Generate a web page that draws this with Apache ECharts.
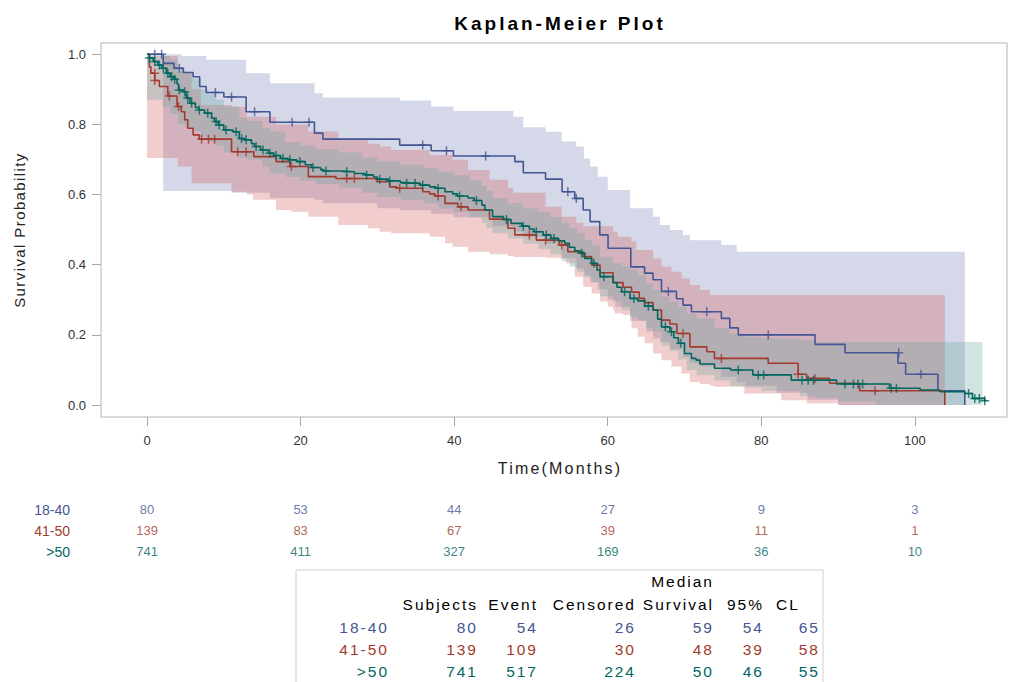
<!DOCTYPE html>
<html>
<head>
<meta charset="utf-8">
<title>Kaplan-Meier Plot</title>
<script src="https://cdn.jsdelivr.net/npm/echarts@6/dist/echarts.min.js"></script>
<style>
  html, body { margin: 0; padding: 0; background: #fff; }
  #chart { width: 1009px; height: 682px; }
</style>
</head>
<body>
<div id="chart"></div>
<script>
/*---------------------------------------- data ---------------------------------------------*/
var groupNames = ['18-40', '41-50', '>50'];
var lineColors = ['#445694', '#A23A2E', '#01665E'];
var fillColors = ['#6F7EB3', '#D05B5B', '#66A5A0'];

// step curves: [month, survival] (level holds from month on)
var survival1840 = [
    [0, 1.0], [2.1, .974], [3.5, .960], [4.7, .948], [6.0, .936], [6.85, .908], [7.7, .891], [10.0, .878],
    [12.9, .836], [16.0, .806], [21.8, .775], [22.9, .758], [32.9, .741], [37.0, .725], [39.9, .710],
    [47.9, .694], [49.0, .662], [51.9, .644], [54.05, .608], [55.7, .589], [56.8, .556], [57.7, .523],
    [58.96, .485], [60.04, .447], [63.0, .394], [64.8, .376], [65.9, .357], [67.0, .324], [68.95, .303],
    [69.8, .285], [70.9, .266], [74.8, .247], [75.9, .220], [77.0, .200], [87.0, .173], [90.9, .149],
    [97.8, .119], [98.8, .088], [103.0, .041], [106.5, 0]
];
var survival4150 = [
    [0, 1.0], [0.3, .964], [0.5, .946], [1.0, .925], [1.6, .908], [2.7, .881], [3.9, .851], [4.45, .836],
    [4.9, .813], [5.3, .789], [6.0, .770], [6.8, .758], [11.0, .722], [13.9, .708], [16.8, .694],
    [18.6, .680], [21.0, .651], [24.6, .646], [29.9, .637], [31.6, .622], [32.5, .618], [35.9, .608],
    [36.8, .602], [37.5, .596], [38.8, .575], [40.5, .565], [41.8, .556], [44.6, .530], [47.0, .504],
    [47.9, .485], [50.7, .470], [53.7, .456], [54.8, .437], [56.8, .423], [57.9, .399], [59.0, .377],
    [60.7, .349], [62.0, .336], [63.1, .322], [64.1, .304], [64.8, .292], [65.9, .271], [67.0, .242],
    [68.1, .231], [69.0, .204], [70.7, .166], [72.9, .152], [73.9, .133], [80.9, .119], [84.8, .088],
    [85.9, .076], [88.9, .062], [92.8, .041], [103.9, 0]
];
var survivalOver50 = [
    [0, 1.0], [0.3, .989], [0.8, .979], [1.4, .969], [1.9, .960], [2.5, .946], [3.0, .936], [3.5, .929],
    [3.9, .915], [4.1, .898], [4.7, .893], [5.1, .875], [5.6, .860], [6.3, .848], [6.7, .841], [7.5, .832],
    [8.4, .818], [8.8, .808], [9.3, .798], [10.0, .784], [11.2, .779], [12.0, .760], [12.7, .756],
    [13.6, .745], [14.0, .737], [14.8, .727], [15.8, .718], [16.5, .711], [17.4, .703], [18.4, .699],
    [19.5, .694], [20.6, .685], [21.4, .677], [22.6, .671], [23.0, .667], [25.5, .665], [27.0, .660],
    [28.4, .656], [29.5, .650], [30.0, .644], [31.4, .639], [33.0, .634], [33.5, .632], [35.6, .627],
    [36.8, .622], [37.6, .618], [38.8, .608], [39.8, .602], [40.4, .596], [41.8, .590], [42.6, .583],
    [43.6, .570], [44.0, .556], [45.0, .537], [46.4, .529], [47.4, .518], [48.8, .510], [49.8, .502],
    [50.4, .494], [51.6, .485], [52.6, .475], [53.6, .468], [54.4, .461], [55.0, .450], [55.7, .440],
    [56.4, .433], [57.0, .418], [57.9, .404], [58.6, .385], [59.0, .366], [60.7, .349], [61.2, .336],
    [61.8, .323], [62.9, .304], [63.9, .297], [64.8, .282], [65.9, .271], [66.5, .245], [67.0, .223],
    [68.1, .209], [68.6, .192], [69.2, .176], [70.0, .147], [70.9, .133], [71.5, .128], [72.0, .117],
    [73.9, .105], [76.0, .100], [78.9, .086], [83.9, .071], [89.8, .060], [96.7, .048], [100.7, .043],
    [103.3, .038], [106.5, .033], [107.5, .019], [109.1, .012], [109.3, .012]
];

// censored observations: [month, survival]
var censor1840 = [
    [1.0, 1], [1.9, 1], [4.2, .960], [8.9, .891], [11.0, .878], [14.0, .836], [18.9, .806], [21.1, .806],
    [35.9, .741], [39.0, .725], [44.1, .710], [54.8, .608], [55.9, .589], [67.9, .324], [72.9, .266],
    [80.9, .200], [97.9, .149], [100.8, .088]
];
var censor4150 = [
    [1.0, .946], [1.0, .925], [2.9, .881], [4.1, .851], [7.1, .758], [8.0, .758], [8.8, .758], [11.8, .722],
    [12.9, .722], [18.8, .680], [26.0, .646], [27.0, .646], [32.9, .618], [37.9, .596], [40.9, .565],
    [49.8, .485], [51.9, .470], [54.0, .456], [69.8, .204], [74.8, .133], [84.8, .088], [87.0, .076],
    [94.8, .041]
];
var censorOver50 = [
    [0.3, .989], [1.0, .979], [1.6, .969], [2.1, .960], [2.7, .946], [3.2, .936], [3.6, .929], [4.2, .898],
    [4.9, .893], [5.3, .875], [5.8, .860], [6.8, .841], [7.9, .832], [9.0, .808], [9.4, .798], [10.3, .784],
    [11.6, .779], [12.3, .760], [12.9, .756], [14.2, .737], [15.1, .727], [16.0, .718], [16.8, .711],
    [17.7, .703], [18.6, .699], [19.9, .694], [21.6, .677], [23.3, .667], [26.0, .665], [28.6, .656],
    [30.3, .644], [31.6, .639], [33.8, .632], [34.9, .632], [35.9, .627], [37.9, .618], [40.7, .596],
    [42.9, .583], [46.8, .529], [49.0, .510], [50.7, .494], [52.0, .485], [53.0, .475], [56.6, .433],
    [58.2, .404], [59.5, .366], [62.2, .323], [63.4, .304], [65.3, .282], [67.5, .223], [68.3, .209],
    [69.5, .176], [77.0, .100], [79.6, .086], [80.3, .086], [85.3, .071], [86.1, .071], [86.8, .071],
    [90.9, .060], [92.0, .060], [92.6, .060], [93.2, .060], [96.9, .048], [97.6, .048], [107.0, .033],
    [107.8, .019], [108.4, .019], [109.1, .012]
];

// confidence bands: [month, lower, upper] (holds from month on), plus end month
var band1840 = [
    [2.1, .610, 1.0], [4.5, .610, .995], [7.7, .610, .984], [11.0, .605, .984], [12.9, .605, .946],
    [16.0, .590, .917], [21.8, .585, .889], [22.9, .575, .877], [30.0, .561, .877], [32.9, .555, .868],
    [37.0, .545, .851], [39.9, .535, .838], [45.0, .510, .838], [47.7, .495, .822], [49.0, .480, .792],
    [51.9, .460, .779], [54.0, .420, .751], [55.9, .390, .737], [56.9, .370, .703], [57.7, .350, .680],
    [58.7, .330, .651], [60.0, .300, .613], [61.0, .280, .613], [62.9, .240, .561], [65.0, .210, .561],
    [65.9, .190, .537], [66.8, .180, .513], [68.1, .160, .499], [69.8, .138, .485], [70.7, .120, .470],
    [72.0, .110, .470], [74.8, .080, .456], [76.8, .065, .437], [78.0, .055, .437], [82.0, .035, .437],
    [86.0, .015, .437], [90.0, 0, .437]
];
var band4150 = [
    [0, .704, .995], [4.0, .680, .950], [5.8, .632, .900], [7.0, .632, .855], [11.0, .608, .850],
    [13.0, .600, .822], [13.8, .585, .822], [16.8, .556, .800], [18.8, .551, .800], [21.0, .537, .780],
    [24.9, .513, .760], [28.8, .504, .745], [30.3, .494, .737], [31.8, .490, .727], [36.8, .480, .713],
    [38.8, .461, .713], [39.8, .451, .699], [41.8, .437, .670], [44.6, .430, .642], [47.0, .425, .619],
    [47.7, .422, .605], [51.9, .420, .565], [53.7, .418, .565], [54.0, .418, .537], [54.6, .404, .537],
    [55.7, .366, .537], [55.9, .366, .520], [56.8, .337, .510], [57.9, .318, .510], [59.0, .295, .510],
    [60.0, .280, .510], [60.7, .270, .494], [60.9, .261, .494], [61.3, .261, .480], [62.0, .257, .480],
    [63.1, .219, .466], [63.7, .219, .442], [63.9, .195, .442], [64.8, .176, .442], [65.9, .147, .418],
    [67.0, .128, .394], [68.3, .110, .380], [69.6, .090, .361], [70.7, .066, .342], [72.0, .060, .328],
    [73.3, .055, .314], [73.9, .052, .314], [77.8, .033, .314], [82.6, .014, .314], [85.9, .005, .314],
    [90.0, 0, .314]
];
var bandOver50 = [
    [0, .870, 1.0], [2, .850, .995], [3, .830, .985], [4, .800, .960], [5, .790, .945], [6, .780, .930],
    [7, .765, .900], [8, .750, .885], [9, .740, .870], [10, .720, .850], [12, .705, .820], [13, .700, .810],
    [15, .680, .790], [16, .660, .780], [18, .650, .750], [20, .640, .740], [22, .630, .730], [25, .620, .720],
    [28, .605, .705], [30, .594, .694], [33, .585, .685], [36, .575, .675], [38, .560, .665], [40, .550, .655],
    [42, .535, .640], [43.6, .520, .625], [44.2, .505, .610], [45, .490, .590], [47, .475, .575],
    [49, .460, .560], [51, .445, .550], [52.5, .430, .535], [54, .410, .520], [55, .395, .505],
    [56, .380, .490], [57, .365, .470], [58, .350, .455], [59, .310, .423], [60.7, .295, .404],
    [61.8, .270, .395], [62.9, .250, .385], [63.9, .240, .371], [65.0, .220, .347], [65.9, .210, .328],
    [67.0, .170, .309], [68.1, .155, .295], [69.2, .130, .280], [70.3, .100, .261], [71.6, .085, .247],
    [73.9, .070, .219], [75.9, .055, .204], [77.6, .050, .195], [80, .040, .190], [85, .025, .185],
    [87, .020, .180], [90, .010, .180], [95, 0, .180]
];
var bandEnds = [106.5, 103.9, 108.8];

// number at risk
var riskMonths = [0, 20, 40, 60, 80, 100];
var atRisk1840 = [80, 53, 44, 27, 9, 3];
var atRisk4150 = [139, 83, 67, 39, 11, 1];
var atRiskOver50 = [741, 411, 327, 169, 36, 10];

// summary table
var subjects = [80, 139, 741];
var events = [54, 109, 517];
var censored = [26, 30, 224];
var medianSurvival = [59, 48, 50];
var lowerCL = [54, 39, 46];
var upperCL = [65, 58, 55];

var xTicks = [0, 20, 40, 60, 80, 100];
var yTicks = [0, 0.2, 0.4, 0.6, 0.8, 1.0];

/*---------------------------------------- chart ---------------------------------------------*/
var chart = echarts.init(document.getElementById('chart'), null, {renderer: 'svg'});
var font = '"Liberation Sans", Arial, sans-serif';
var plusSymbol = 'path://M5,0h2v5h5v2h-5v5h-2v-5h-5v-2h5z';

// SAS output draws these texts with wide letter spacing; keyed by font size
var letterSpacing = {'19': 3, '16': 2.2, '15': 1.4, '15.5': 2};

function bandSeries(rows, end, color) {
    return {
        type: 'custom',
        xAxisIndex: 0,
        yAxisIndex: 0,
        clip: true,
        silent: true,
        z: 1,
        data: [0],
        renderItem: function (params, api) {
            var top = [], bottom = [];
            for (var i = 0; i < rows.length; i++) {
                var t0 = rows[i][0];
                var t1 = i + 1 < rows.length ? rows[i + 1][0] : end;
                top.push(api.coord([t0, rows[i][2]]), api.coord([t1, rows[i][2]]));
                bottom.push(api.coord([t0, rows[i][1]]), api.coord([t1, rows[i][1]]));
            }
            return {
                type: 'polygon',
                shape: {points: top.concat(bottom.reverse())},
                style: {fill: color, opacity: 0.3}
            };
        }
    };
}

function stepSeries(name, data, color) {
    return {
        name: name,
        type: 'line',
        step: 'end',
        showSymbol: false,
        silent: true,
        z: 3,
        data: data,
        lineStyle: {color: color, width: 1.6}
    };
}

function censorSeries(name, data, color) {
    return {
        name: name,
        type: 'scatter',
        symbol: plusSymbol,
        symbolSize: 9,
        silent: true,
        z: 4,
        data: data,
        itemStyle: {color: color}
    };
}

function riskSeries(name, counts, color) {
    var data = [];
    for (var i = 0; i < riskMonths.length; i++) {
        data.push([riskMonths[i], name, counts[i]]);
    }
    return {
        type: 'scatter',
        xAxisIndex: 1,
        yAxisIndex: 1,
        symbolSize: 1,
        silent: true,
        itemStyle: {color: 'rgba(0,0,0,0)'},
        label: {
            show: true,
            position: 'inside',
            formatter: function (p) { return p.value[2]; },
            color: color,
            fontFamily: font,
            fontSize: 13
        },
        data: data
    };
}

// summary table as graphic text
var tableTop = 570;
var rowY = [627, 649, 671];
var colRight = [478, 538, 636, 714, 764, 820];
var graphics = [{
    type: 'rect',
    shape: {x: 296, y: tableTop, width: 527, height: 130},
    style: {fill: 'none', stroke: '#cfcfcf', lineWidth: 1}
}];

function addText(text, x, y, color, align) {
    graphics.push({
        type: 'text',
        x: x,
        y: y,
        style: {
            text: String(text),
            fill: color,
            font: '15.5px ' + font,
            align: align || 'right',
            verticalAlign: 'middle'
        }
    });
}

addText('Median', 714, 581, '#000');
var headers = ['Subjects', 'Event', 'Censored', 'Survival', '95%'];
for (var h = 0; h < headers.length; h++) {
    addText(headers[h], colRight[h], 604, '#000');
}
addText('CL', 776, 604, '#000', 'left');
for (var r = 0; r < groupNames.length; r++) {
    var c = lineColors[r];
    addText(groupNames[r], 389, rowY[r], c);
    var vals = [subjects[r], events[r], censored[r], medianSurvival[r], lowerCL[r], upperCL[r]];
    for (var k = 0; k < vals.length; k++) {
        addText(vals[k], colRight[k], rowY[r], c);
    }
}

var option = {
    backgroundColor: '#fff',
    animation: false,
    title: {
        text: 'Kaplan-Meier Plot',
        left: 555,
        top: 9,
        textAlign: 'center',
        textStyle: {fontFamily: font, fontSize: 19, fontWeight: 'bold', color: '#000'}
    },
    grid: [
        {left: 101, top: 43, width: 906, height: 374, show: true, borderColor: '#b3b3b3', borderWidth: 1},
        {left: 101, top: 499, width: 906, height: 63}
    ],
    xAxis: [
        {
            type: 'value',
            gridIndex: 0,
            min: -6,
            max: 112,
            name: 'Time(Months)',
            nameLocation: 'middle',
            nameGap: 43,
            nameTextStyle: {fontFamily: font, fontSize: 16, color: '#222', padding: [0, 0, 0, 12]},
            axisLine: {show: false, onZero: false},
            axisTick: {show: true, length: 9, customValues: xTicks, lineStyle: {color: '#a8a8a8'}},
            axisLabel: {customValues: xTicks, margin: 17, fontFamily: font, fontSize: 13, color: '#333'},
            splitLine: {show: false}
        },
        {
            type: 'value',
            gridIndex: 1,
            min: -6,
            max: 112,
            show: false
        }
    ],
    yAxis: [
        {
            type: 'value',
            gridIndex: 0,
            min: -0.034,
            max: 1.032,
            name: 'Survival Probability',
            nameLocation: 'middle',
            nameGap: 74,
            nameRotate: 90,
            nameTextStyle: {fontFamily: font, fontSize: 15, color: '#222'},
            axisLine: {show: false, onZero: false},
            axisTick: {show: true, length: 9, customValues: yTicks, lineStyle: {color: '#a8a8a8'}},
            axisLabel: {
                customValues: yTicks,
                margin: 15,
                fontFamily: font,
                fontSize: 13,
                color: '#333',
                formatter: function (v) { return v.toFixed(1); }
            },
            splitLine: {show: false}
        },
        {
            type: 'category',
            gridIndex: 1,
            inverse: true,
            data: groupNames,
            axisLine: {show: false},
            axisTick: {show: false},
            axisLabel: {
                margin: 31,
                fontFamily: font,
                fontSize: 14,
                color: function (v, i) { return lineColors[groupNames.indexOf(v)]; }
            }
        }
    ],
    series: [
        bandSeries(band1840, bandEnds[0], fillColors[0]),
        bandSeries(band4150, bandEnds[1], fillColors[1]),
        bandSeries(bandOver50, bandEnds[2], fillColors[2]),
        stepSeries('18-40', survival1840, lineColors[0]),
        stepSeries('41-50', survival4150, lineColors[1]),
        stepSeries('>50', survivalOver50, lineColors[2]),
        censorSeries('18-40 censored', censor1840, lineColors[0]),
        censorSeries('41-50 censored', censor4150, lineColors[1]),
        censorSeries('>50 censored', censorOver50, lineColors[2]),
        riskSeries('18-40', atRisk1840, lineColors[0]),
        riskSeries('41-50', atRisk4150, lineColors[1]),
        riskSeries('>50', atRiskOver50, lineColors[2])
    ],
    graphic: graphics
};

function spaceLetters() {
    var texts = document.querySelectorAll('#chart svg text');
    for (var i = 0; i < texts.length; i++) {
        var size = String(parseFloat(getComputedStyle(texts[i]).fontSize));
        if (letterSpacing[size]) {
            texts[i].style.letterSpacing = letterSpacing[size] + 'px';
        }
    }
}

chart.on('finished', spaceLetters);
chart.setOption(option);
</script>
</body>
</html>
